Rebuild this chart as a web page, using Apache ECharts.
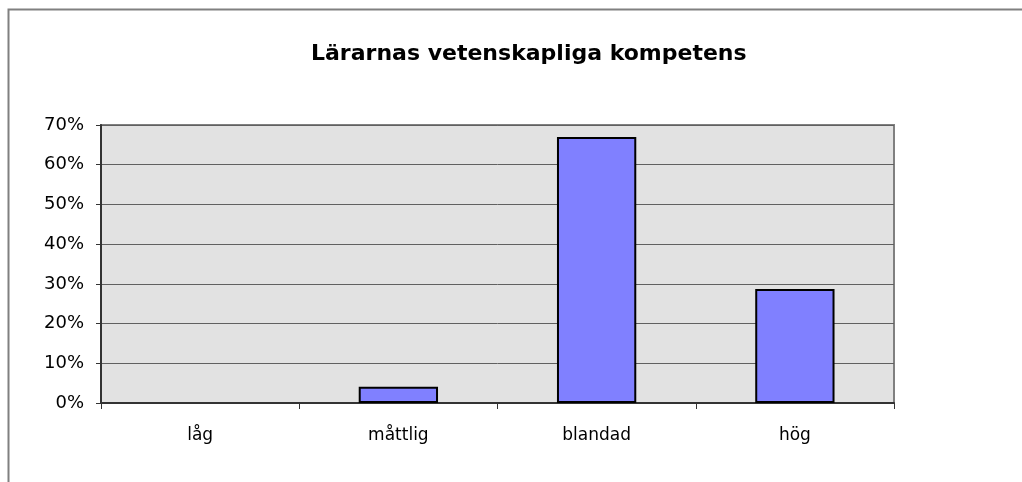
<!DOCTYPE html>
<html>
<head>
<meta charset="utf-8">
<script src="https://cdn.jsdelivr.net/npm/echarts@6/dist/echarts.min.js"></script>
<style>
  html, body { margin: 0; padding: 0; background: #fff; }
  #chart { width: 1022px; height: 482px; }
</style>
</head>
<body>
<div id="chart"></div>
<script>
// kategorier och andelar (%)
const categories = ["låg", "måttlig", "blandad", "hög"];
const values = [0, 4.1, 67.0, 28.7];
const yTicks = [0, 10, 20, 30, 40, 50, 60, 70];

const chart = echarts.init(document.getElementById("chart"));
const option = {
  animation: false,
  backgroundColor: "#fff",
  textStyle: { fontFamily: "DejaVu Sans, Arial, sans-serif" },
  title: {
    text: "Lärarnas vetenskapliga kompetens",
    left: 306,
    top: 38,
    textStyle: { fontSize: 22, fontWeight: "bold", color: "#000" },
  },
  // ram runt hela diagrammet
  graphic: [
    {
      type: "rect",
      shape: { x: 8.5, y: 9.5, width: 1200, height: 700 },
      style: { fill: "none", stroke: "#808080", lineWidth: 2 },
      silent: true,
    },
  ],
  grid: {
    left: 101,
    top: 125,
    right: 128,
    bottom: 79,
    show: true,
    backgroundColor: "#e2e2e2",
    borderColor: "#808080",
    borderWidth: 2,
  },
  xAxis: {
    type: "category",
    data: categories,
    axisLine: { lineStyle: { color: "#333", width: 2 } },
    axisTick: { show: true, length: 6, lineStyle: { color: "#333" } },
    axisLabel: { color: "#000", fontSize: 17, margin: 24 },
  },
  yAxis: {
    type: "value",
    min: yTicks[0],
    max: yTicks[yTicks.length - 1],
    interval: 10,
    axisLine: { show: true, lineStyle: { color: "#333", width: 2 } },
    axisTick: { show: true, length: 5, lineStyle: { color: "#333" } },
    axisLabel: {
      color: "#000",
      fontSize: 18,
      margin: 17,
      formatter: "{value}%",
    },
    splitLine: { lineStyle: { color: "#606060", width: 1 } },
  },
  series: [
    {
      type: "bar",
      // nollvärden ritas utan kantlinje
      data: values.map((v) => (v === 0 ? { value: v, itemStyle: { borderWidth: 0 } } : v)),
      barWidth: "40%",
      itemStyle: { color: "#8080ff", borderColor: "#000", borderWidth: 2 },
    },
  ],
};
chart.setOption(option);
</script>
</body>
</html>
